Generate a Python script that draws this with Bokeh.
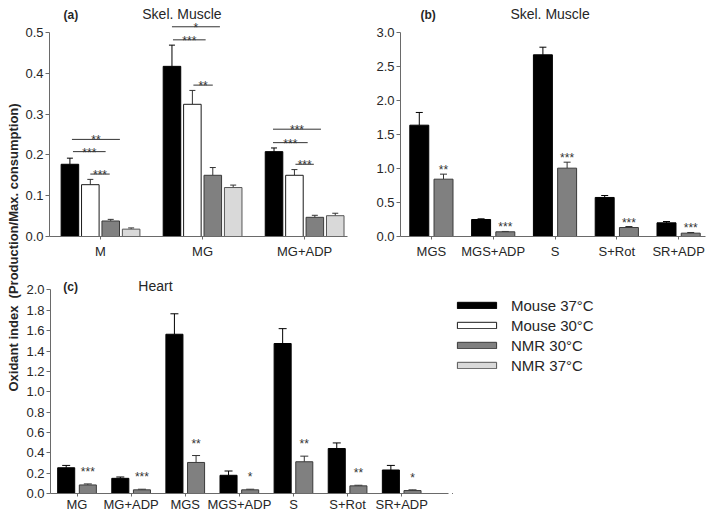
import math
from bokeh.plotting import figure
from bokeh.models import (Range1d, FixedTicker, NumeralTickFormatter, ColumnDataSource,
                          Whisker, TeeHead, Label, Legend, LegendItem)
from bokeh.layouts import row, column
from bokeh.embed import file_html
from bokeh.resources import INLINE
from bokeh.core.properties import value

FONT = "Liberation Sans"

# ---------------- data ----------------
series_names = ["Mouse 37°C", "Mouse 30°C", "NMR 30°C", "NMR 37°C"]

# (a) Skel. Muscle
cats_a = ["M", "MG", "MG+ADP"]
mouse37_a = [0.177, 0.417, 0.208]
mouse37_a_sem = [0.015, 0.052, 0.009]
mouse30_a = [0.127, 0.324, 0.150]
mouse30_a_sem = [0.013, 0.034, 0.014]
nmr30_a = [0.038, 0.150, 0.047]
nmr30_a_sem = [0.004, 0.019, 0.005]
nmr37_a = [0.018, 0.120, 0.051]
nmr37_a_sem = [0.003, 0.006, 0.006]
yticks_a = [0.0, 0.1, 0.2, 0.3, 0.4, 0.5]
# significance brackets of (a)
brk_x0_a = [-0.28, -0.27, -0.10, 0.70, 0.71, 0.91, 1.69, 1.69, 1.91]
brk_x1_a = [0.19, 0.05, 0.09, 1.17, 1.03, 1.10, 2.16, 2.03, 2.09]
brk_y_a = [0.238, 0.208, 0.153, 0.514, 0.482, 0.371, 0.263, 0.230, 0.177]
brk_lbl_a = ["**", "***", "***", "*", "***", "**", "***", "***", "***"]

# (b) Skel. Muscle
cats_b = ["MGS", "MGS+ADP", "S", "S+Rot", "SR+ADP"]
mouse37_b = [1.637, 0.250, 2.672, 0.574, 0.201]
mouse37_b_sem = [0.187, 0.010, 0.112, 0.029, 0.019]
nmr30_b = [0.843, 0.069, 1.005, 0.132, 0.049]
nmr30_b_sem = [0.074, 0.005, 0.088, 0.015, 0.010]
stars_b = ["**", "***", "***", "***", "***"]
yticks_b = [0.0, 0.5, 1.0, 1.5, 2.0, 2.5, 3.0]

# (c) Heart
cats_c = ["MG", "MG+ADP", "MGS", "MGS+ADP", "S", "S+Rot", "SR+ADP"]
mouse37_c = [0.253, 0.149, 1.565, 0.179, 1.474, 0.442, 0.231]
mouse37_c_sem = [0.023, 0.013, 0.201, 0.042, 0.146, 0.055, 0.045]
nmr30_c = [0.084, 0.036, 0.305, 0.036, 0.312, 0.075, 0.029]
nmr30_c_sem = [0.010, 0.006, 0.068, 0.006, 0.055, 0.006, 0.007]
stars_c = ["***", "***", "**", "*", "**", "**", "*"]
yticks_c = [0.0, 0.2, 0.4, 0.6, 0.8, 1.0, 1.2, 1.4, 1.6, 1.8, 2.0]

# ---------------- styles ----------------
FILL = {"Mouse 37°C": "#000000", "Mouse 30°C": "#ffffff",
        "NMR 30°C": "#808080", "NMR 37°C": "#d9d9d9"}
LINE = {"Mouse 37°C": "#000000", "Mouse 30°C": "#1a1a1a",
        "NMR 30°C": "#3a3a3a", "NMR 37°C": "#555555"}
AXC = "#6a6a6a"
TXT = "#262626"


def make_fig(w, h, xr, yr, ml, mr, mt, mb):
    p = figure(width=w, height=h, x_range=Range1d(*xr), y_range=Range1d(*yr),
               output_backend="svg", toolbar_location=None, tools="",
               min_border_left=ml, min_border_right=mr,
               min_border_top=mt, min_border_bottom=mb)
    p.outline_line_color = None
    p.grid.visible = False
    p.background_fill_color = "white"
    return p


def style_axes(p, cats, yticks, ymax, xstandoff):
    xa = p.xaxis[0]
    ya = p.yaxis[0]
    for ax in (xa, ya):
        ax.axis_line_color = AXC
        ax.major_tick_line_color = AXC
        ax.minor_tick_line_color = None
        ax.major_tick_in = 0
        ax.major_label_text_font = FONT
        ax.major_label_text_font_size = "13px"
        ax.major_label_text_color = TXT
    xa.ticker = FixedTicker(ticks=list(range(len(cats))))
    xa.major_label_overrides = {i: c for i, c in enumerate(cats)}
    xa.major_tick_out = 3
    xa.major_label_standoff = xstandoff
    ya.ticker = FixedTicker(ticks=yticks)
    ya.formatter = NumeralTickFormatter(format="0.0")
    ya.bounds = (0, ymax)
    ya.major_tick_out = 4
    ya.major_label_standoff = 2


def bars(p, vals, sems, name, offset, width, cap):
    xs = [i + offset for i in range(len(vals))]
    up = [v + s for v, s in zip(vals, sems)]
    src = ColumnDataSource(dict(x=xs, top=vals, upper=up, lower=vals))
    p.vbar(x="x", top="top", bottom=0, width=width, source=src,
           fill_color=FILL[name], line_color=LINE[name], line_width=1)
    wc = "#000000" if name == "Mouse 37°C" else "#333333"
    p.add_layout(Whisker(source=src, base="x", upper="upper", lower="lower",
                         dimension="height", line_color=wc, line_width=1,
                         lower_head=None,
                         upper_head=TeeHead(size=cap, line_color=wc, line_width=1)))
    return src


def stars(p, vals, sems, labels, offset, yoff):
    xs = [i + offset for i in range(len(vals))]
    ys = [v + s for v, s in zip(vals, sems)]
    p.text(x=xs, y=ys, text=labels, text_align="center", text_baseline="alphabetic",
           y_offset=yoff, text_font=value(FONT), text_font_size="12px", text_color="#333333")


def titles(p, tag, tag_xy, title, title_xy):
    p.add_layout(Label(x=tag_xy[0], y=tag_xy[1], text=tag, text_font=FONT,
                       text_font_style="bold", text_font_size="12px", text_color=TXT,
                       text_baseline="alphabetic"))
    p.add_layout(Label(x=title_xy[0], y=title_xy[1], text=title, text_font=FONT,
                       text_font_size="14px", text_color=TXT, text_baseline="alphabetic"))


# ---------------- panel (a) ----------------
pa = make_fig(334, 265, (-0.5, 2.42), (0, 0.5784), 27, 9, 0, 29)
style_axes(pa, cats_a, yticks_a, 0.5, 4)
for vals, sems, name, off in [(mouse37_a, mouse37_a_sem, series_names[0], -0.3),
                              (mouse30_a, mouse30_a_sem, series_names[1], -0.1),
                              (nmr30_a, nmr30_a_sem, series_names[2], 0.1),
                              (nmr37_a, nmr37_a_sem, series_names[3], 0.3)]:
    bars(pa, vals, sems, name, off, 0.172, 6)
pa.segment(x0=brk_x0_a, y0=brk_y_a, x1=brk_x1_a, y1=brk_y_a, line_color="#333333", line_width=1)
pa.text(x=[(a + b) / 2 for a, b in zip(brk_x0_a, brk_x1_a)], y=brk_y_a, text=brk_lbl_a,
        text_align="center", text_baseline="alphabetic", y_offset=1,
        text_font=value(FONT), text_font_size="12px", text_color="#333333")
titles(pa, "(a)", (-0.363, 0.543), "Skel. Muscle", (0.409, 0.545))

# ---------------- panel (b) ----------------
pb = make_fig(351, 265, (-0.5, 4.435), (0, 3.4706), 44, 2, 0, 29)
style_axes(pb, cats_b, yticks_b, 3.0, 4)
bars(pb, mouse37_b, mouse37_b_sem, series_names[0], -0.196, 0.307, 7)
bars(pb, nmr30_b, nmr30_b_sem, series_names[2], 0.196, 0.307, 7)
stars(pb, nmr30_b, nmr30_b_sem, stars_b, 0.196, -4)
titles(pb, "(b)", (-0.178, 3.26), "Skel. Muscle", (1.278, 3.27))

# ---------------- panel (c) ----------------
pc = make_fig(430, 249, (-0.49, 6.865), (0, 2.2406), 28, 4, 0, 19)
style_axes(pc, cats_c, yticks_c, 2.0, 0)
bars(pc, mouse37_c, mouse37_c_sem, series_names[0], -0.2, 0.315, 8)
bars(pc, nmr30_c, nmr30_c_sem, series_names[2], 0.2, 0.315, 8)
stars(pc, nmr30_c, nmr30_c_sem, stars_c, 0.2, -12)
titles(pc, "(c)", (-0.253, 2.03), "Heart", (1.133, 2.035))

# ---------------- legend ----------------
leg = figure(width=255, height=249, x_range=Range1d(0, 1), y_range=Range1d(0, 1),
             x_axis_type=None, y_axis_type=None, output_backend="svg",
             toolbar_location=None, tools="", min_border=0)
leg.outline_line_color = None
leg.grid.visible = False
items = []
for name in series_names:
    # placeholder renderer (kept outside the visible range) that only supplies the legend swatch
    r = leg.vbar(x=[-5], top=[-5], bottom=-6, width=0.1, fill_color=FILL[name],
                 line_color=LINE[name], line_width=1)
    items.append(LegendItem(label=name, renderers=[r]))
legend = Legend(items=items, location=(0, 118), orientation="vertical",
                glyph_width=49, glyph_height=8, label_standoff=10,
                label_text_font=FONT, label_text_font_size="15px", label_text_color=TXT,
                label_height=20, spacing=0, padding=0, margin=0,
                background_fill_alpha=0, border_line_color=None)
leg.add_layout(legend)

# ---------------- y label strip ----------------
ylab = figure(width=22, height=514, x_range=Range1d(0, 1), y_range=Range1d(0, 1),
              x_axis_type=None, y_axis_type=None, output_backend="svg",
              toolbar_location=None, tools="", min_border=0)
ylab.outline_line_color = None
ylab.grid.visible = False
ylab.add_layout(Label(x=0.59, y=0.5195, text="Oxidant index\u00a0 (Production/Max. consumption)",
                      angle=math.pi / 2, text_align="center", text_baseline="middle",
                      text_font=FONT, text_font_style="bold", text_font_size="13px",
                      text_color=TXT))

layout = row(ylab, column(row(pa, pb), row(pc, leg)))
open("out.html", "w").write(file_html(layout, INLINE))
